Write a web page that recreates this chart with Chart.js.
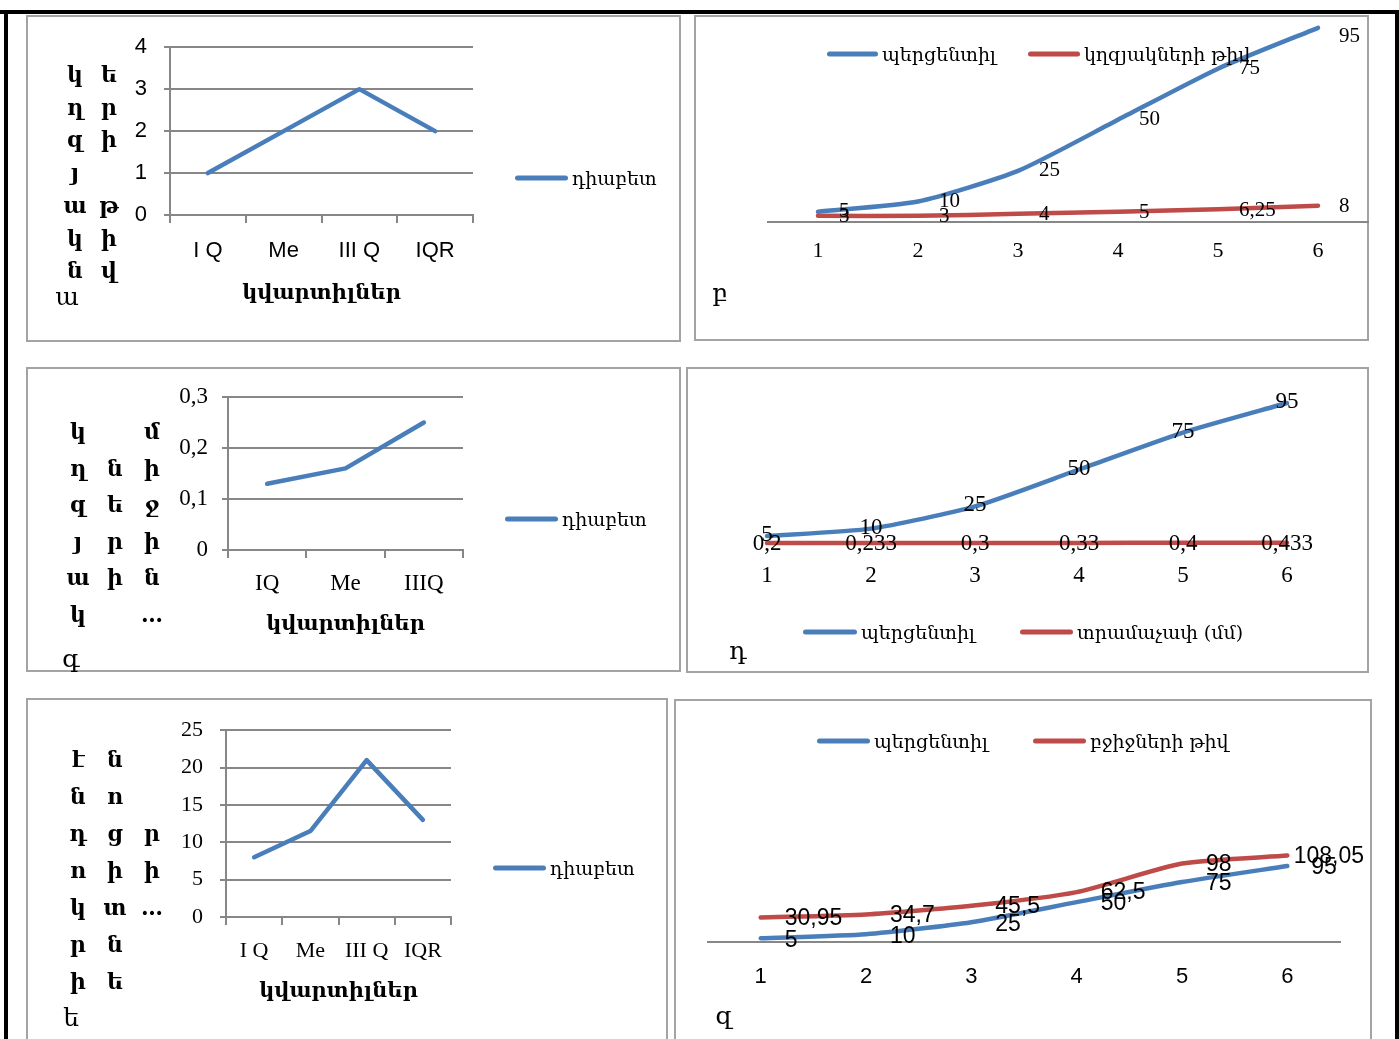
<!DOCTYPE html>
<html><head><meta charset="utf-8">
<script src="https://cdn.jsdelivr.net/npm/chart.js@4.4.0/dist/chart.umd.min.js"></script>
<style>
html,body{margin:0;padding:0;background:#fff;}
body{width:1399px;height:1039px;overflow:hidden;position:relative;font-family:"DejaVu Serif",serif;}
.frame{position:absolute;background:#000;}
.panel{position:absolute;border:2px solid #a3a3a3;box-sizing:border-box;}
canvas{position:absolute;}
.st{position:absolute;font:bold 22px "DejaVu Serif";transform:translate(-50%,-50%);line-height:1;white-space:nowrap;}
.lbl{position:absolute;font:25px "DejaVu Serif";transform:translate(-50%,-50%);line-height:1;}
.sw{position:absolute;height:5px;border-radius:3px;transform:translateY(-50%);}
.lt{position:absolute;font:19px "DejaVu Serif";transform:translateY(-50%);line-height:1;white-space:nowrap;}
</style>
</head><body>
<div class="frame" style="left:0;top:10px;width:1399px;height:4px"></div>
<div class="frame" style="left:4px;top:10px;width:4px;height:1029px"></div>
<div class="frame" style="left:1395px;top:10px;width:4px;height:1029px"></div>

<div class="panel" style="left:26px;top:15px;width:655px;height:327px"></div>
<div class="panel" style="left:694px;top:15px;width:675px;height:326px"></div>
<div class="panel" style="left:26px;top:367px;width:655px;height:305px"></div>
<div class="panel" style="left:686px;top:367px;width:683px;height:306px"></div>
<div class="panel" style="left:26px;top:698px;width:642px;height:345px"></div>
<div class="panel" style="left:674px;top:699px;width:698px;height:345px"></div>

<canvas id="cA"></canvas><canvas id="cB"></canvas><canvas id="cC"></canvas>
<canvas id="cD"></canvas><canvas id="cE"></canvas><canvas id="cF"></canvas>
<div id="txt"></div>
<script>
// ---------- data ----------
const quartilesA = ['I Q', 'Me', 'III Q', 'IQR'];
const diabetesA = [1, 2, 3, 2];
const percentileRanks = ['1', '2', '3', '4', '5', '6'];
const percentileB = [5, 10, 25, 50, 75, 95];
const isletCountB = [3, 3, 4, 5, 6.25, 8];
const quartilesC = ['IQ', 'Me', 'IIIQ'];
const diabetesC = [0.13, 0.16, 0.25];
const percentileD = [5, 10, 25, 50, 75, 95];
const diameterD = [0.2, 0.233, 0.3, 0.33, 0.4, 0.433];
const quartilesE = ['I Q', 'Me', 'III Q', 'IQR'];
const diabetesE = [8, 11.5, 21, 13];
const percentileF = [5, 10, 25, 50, 75, 95];
const cellCountF = [30.95, 34.7, 45.5, 62.5, 98, 108.05];

const axisTitle = 'կվարտիլներ';
const seriesDiabetes = 'դիաբետ';
const seriesPercentile = 'պերցենտիլ';
const seriesIslets = 'կղզյակների թիվ';
const seriesDiameter = 'տրամաչափ (մմ)';
const seriesCells = 'բջիջների թիվ';

const BLUE = '#4a7ebb', RED = '#be4b48', GRID = '#878787';
const SERIF = "'Liberation Serif', 'Times New Roman', serif";
const SANS = "'Liberation Sans', Arial, sans-serif";
const ARM = "'DejaVu Serif', serif";
const fmt = v => String(v).replace('.', ',');

// ---------- helpers ----------
function setupCanvas(id, rect) {
  const c = document.getElementById(id);
  c.width = rect.w; c.height = rect.h;
  c.style.left = rect.x + 'px'; c.style.top = rect.y + 'px';
  c.style.width = rect.w + 'px'; c.style.height = rect.h + 'px';
  return c;
}
function pads(rect, area, yW, xH) {
  return {
    left: area.l - rect.x - yW,
    right: rect.x + rect.w - area.r,
    top: area.t - rect.y,
    bottom: rect.y + rect.h - area.b - xH
  };
}
function labelsPlugin(cfg) {
  return {
    id: 'valueLabels',
    afterDatasetsDraw(chart) {
      const ctx = chart.ctx;
      ctx.save();
      ctx.font = cfg.font; ctx.fillStyle = '#000';
      ctx.textBaseline = 'middle'; ctx.textAlign = 'left';
      cfg.sets.forEach(s => {
        const meta = chart.getDatasetMeta(s.index);
        const ds = chart.data.datasets[s.index];
        meta.data.forEach((pt, i) => {
          const t = fmt(ds.data[i]);
          const w = ctx.measureText(t).width;
          let x = s.align === 'right' ? pt.x + s.dx : pt.x - w / 2;
          if (cfg.maxRight != null && x + w > cfg.maxRight) x = cfg.maxRight - w;
          let y = pt.y + (s.dy || 0);
          if (cfg.minY != null) y = Math.max(y, cfg.minY);
          ctx.fillText(t, x, y);
        });
      });
      ctx.restore();
    }
  };
}
function lineDs(label, data, color, tension) {
  return { label, data, borderColor: color, backgroundColor: color, borderWidth: 4.5,
    pointRadius: 0, tension, clip: false, borderCapStyle: 'round', borderJoinStyle: 'round' };
}
function fixW(w) { return s => { s.width = w; }; }
function fixH(h) { return s => { s.height = h; }; }

// quartile panels (a, c, e)
function quartileChart(id, rect, area, yW, xH, cats, data, yMin, yMax, step, tickFont, tickPadY, tickPadX) {
  setupCanvas(id, rect);
  return new Chart(document.getElementById(id), {
    type: 'line',
    data: { labels: cats, datasets: [lineDs(seriesDiabetes, data, BLUE, 0)] },
    options: {
      responsive: false, animation: false, devicePixelRatio: 1,
      layout: { padding: pads(rect, area, yW, xH) },
      plugins: { legend: { display: false }, tooltip: { enabled: false } },
      scales: {
        x: {
          type: 'category', offset: true,
          grid: { display: true, drawOnChartArea: false, drawTicks: true, tickLength: 8, offset: true, color: GRID, lineWidth: 2 },
          border: { display: true, color: GRID, width: 2 },
          ticks: { font: tickFont, color: '#000', padding: tickPadX, maxRotation: 0, autoSkip: false },
          title: { display: true, text: axisTitle, color: '#000', font: { family: ARM, size: 21, weight: 'bold' }, padding: { top: 0, bottom: 4 } },
          afterFit: fixH(xH)
        },
        y: {
          min: yMin, max: yMax,
          grid: { color: GRID, lineWidth: 2, tickLength: 6, drawTicks: true },
          border: { display: true, color: GRID, width: 2 },
          ticks: { stepSize: step, font: tickFont, color: '#000', padding: tickPadY, callback: v => fmt(Math.round(v * 100) / 100) },
          afterFit: fixW(yW)
        }
      }
    }
  });
}

// percentile panels (b, d, f)
function percentileChart(id, rect, area, xH, yMax, datasets, tickFont, tickPad, showAxis, lab) {
  setupCanvas(id, rect);
  return new Chart(document.getElementById(id), {
    type: 'line',
    data: { labels: percentileRanks, datasets },
    options: {
      responsive: false, animation: false, devicePixelRatio: 1,
      layout: { padding: pads(rect, area, 0, xH) },
      plugins: { legend: { display: false }, tooltip: { enabled: false } },
      scales: {
        x: {
          type: 'category', offset: true,
          grid: { display: false, drawTicks: false },
          border: { display: showAxis, color: GRID, width: 2 },
          ticks: { font: tickFont, color: '#000', padding: tickPad, maxRotation: 0, autoSkip: false },
          afterFit: fixH(xH)
        },
        y: { display: false, min: 0, max: yMax }
      }
    },
    plugins: [labelsPlugin(lab)]
  });
}

// ----- a -----
quartileChart('cA', { x: 27, y: 17, w: 653, h: 323 }, { l: 170, r: 473, t: 46, b: 215 }, 50, 95,
  quartilesA, diabetesA, 0, 4, 1, { family: SANS, size: 22 }, 17, 15);
// ----- c -----
quartileChart('cC', { x: 27, y: 369, w: 653, h: 301 }, { l: 228, r: 463, t: 397, b: 550 }, 60, 91,
  quartilesC, diabetesC, 0, 0.3, 0.1, { family: SERIF, size: 23 }, 14, 12);
// ----- e -----
quartileChart('cE', { x: 27, y: 700, w: 640, h: 339 }, { l: 226, r: 451, t: 727, b: 917 }, 60, 91,
  quartilesE, diabetesE, 0, 25, 5, { family: SERIF, size: 22 }, 17, 13);

// ----- b -----
const rB = { x: 695, y: 8, w: 680, h: 332 };
percentileChart('cB', rB, { l: 768, r: 1368, t: 17.6, b: 222 }, 60, 100,
  [lineDs(seriesPercentile, percentileB, BLUE, 0.2), lineDs(seriesIslets, isletCountB, RED, 0.2)],
  { family: SERIF, size: 22 }, 16, true,
  { font: '21px ' + SERIF, minY: 36 - rB.y, sets: [{ index: 0, align: 'right', dx: 21, dy: 0 }, { index: 1, align: 'right', dx: 21, dy: 1 }] });

// ----- d -----
percentileChart('cD', { x: 687, y: 369, w: 681, h: 302 }, { l: 715, r: 1339, t: 395.6, b: 543.4 }, 60, 100,
  [lineDs(seriesPercentile, percentileD, BLUE, 0.2), lineDs(seriesDiameter, diameterD, RED, 0.2)],
  { family: SERIF, size: 23 }, 19, false,
  { font: '23px ' + SERIF, sets: [{ index: 0, align: 'center', dy: -1 }, { index: 1, align: 'center', dy: 1 }] });

// ----- f -----
const rF = { x: 675, y: 701, w: 696, h: 338 };
percentileChart('cF', rF, { l: 708, r: 1340, t: 845.9, b: 942.3 }, 60, 120,
  [lineDs(seriesPercentile, percentileF, BLUE, 0.2), lineDs(seriesCells, cellCountF, RED, 0.2)],
  { family: SANS, size: 22 }, 21, true,
  { font: '23px ' + SANS, maxRight: 1364 - rF.x, sets: [{ index: 0, align: 'right', dx: 24, dy: 2 }, { index: 1, align: 'right', dx: 24, dy: 1 }] });

// ---------- HTML texts: stacked axis titles, panel letters, legends ----------
const txt = document.getElementById('txt');
function put(cls, text, x, y, extra) {
  const d = document.createElement('div');
  d.className = cls; d.textContent = text;
  d.style.left = x + 'px'; d.style.top = y + 'px';
  if (extra) Object.assign(d.style, extra);
  txt.appendChild(d);
}
function stacked(cols) {
  cols.forEach(c => c.chars.forEach((ch, i) => { if (ch !== ' ') put('st', ch, c.x, c.y0 + i * c.dy); }));
}
// panel a: "կղզյակների թիվ"
stacked([
  { x: 75, y0: 74, dy: 32.7, chars: ['կ', 'ղ', 'զ', 'յ', 'ա', 'կ', 'ն'] },
  { x: 109, y0: 74, dy: 32.7, chars: ['ե', 'ր', 'ի', ' ', 'թ', 'ի', 'վ'] }
]);
// panel c
stacked([
  { x: 78, y0: 431, dy: 36.5, chars: ['կ', 'ղ', 'զ', 'յ', 'ա', 'կ'] },
  { x: 115, y0: 431, dy: 36.5, chars: [' ', 'ն', 'ե', 'ր', 'ի'] },
  { x: 152, y0: 431, dy: 36.5, chars: ['մ', 'ի', 'ջ', 'ի', 'ն', '…'] }
]);
// panel e
stacked([
  { x: 78, y0: 759, dy: 37, chars: ['է', 'ն', 'դ', 'ո', 'կ', 'ր', 'ի'] },
  { x: 115, y0: 759, dy: 37, chars: ['ն', 'ո', 'ց', 'ի', 'տ', 'ն', 'ե'] },
  { x: 152, y0: 759, dy: 37, chars: [' ', ' ', 'ր', 'ի', '…'] }
]);
// panel letters
put('lbl', 'ա', 67, 296);
put('lbl', 'բ', 720, 292);
put('lbl', 'գ', 71, 658);
put('lbl', 'դ', 738, 650);
put('lbl', 'ե', 71, 1017);
put('lbl', 'զ', 724, 1015);
// legends
function legend(x, y, color, text, len) {
  put('sw', '', x, y, { width: len + 'px', background: color });
  put('lt', text, x + len + 4, y);
}
legend(515, 178, BLUE, seriesDiabetes, 53);
legend(505, 519, BLUE, seriesDiabetes, 53);
legend(493, 868, BLUE, seriesDiabetes, 53);
legend(827, 54, BLUE, seriesPercentile, 51);
legend(1028, 54, RED, seriesIslets, 52);
legend(803, 632, BLUE, seriesPercentile, 54);
legend(1020, 632, RED, seriesDiameter, 53);
legend(817, 741, BLUE, seriesPercentile, 53);
legend(1033, 741, RED, seriesCells, 53);
</script>
</body></html>
